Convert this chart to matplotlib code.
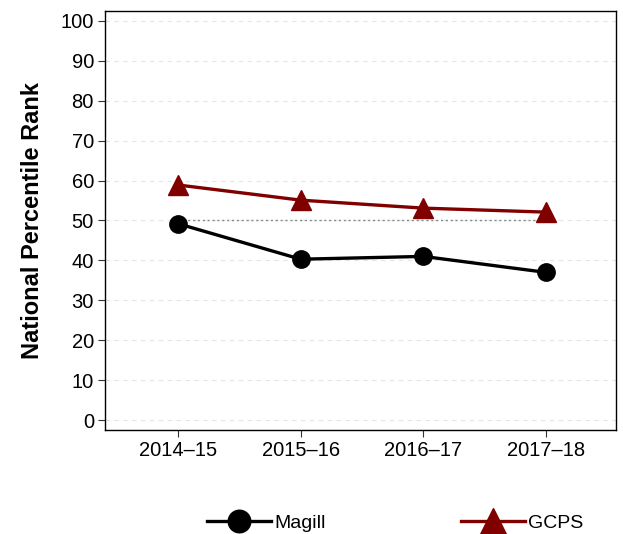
import matplotlib
matplotlib.use("Agg")
import matplotlib.pyplot as plt
from matplotlib import font_manager

years = ["2014\u201315", "2015\u201316", "2016\u201317", "2017\u201318"]
magill = [49.2, 40.3, 41.0, 37.0]
gcps = [58.9, 55.1, 53.1, 52.1]
ref_value = 50
yticks = list(range(0, 101, 10))

names = {f.name for f in font_manager.fontManager.ttflist}
narrow = "Liberation Sans Narrow" if "Liberation Sans Narrow" in names else "Liberation Sans"
plt.rcParams['font.family'] = ['Liberation Sans', 'DejaVu Sans']

fig = plt.figure(figsize=(6.23, 5.34), dpi=100)
ax = fig.add_axes([105/623, 1-430/534, (616-105)/623, (430-11)/534])

x = list(range(1, len(years)+1))
for yv in yticks:
    ax.axhline(yv, color='#dde8e8', lw=0.8, ls=(0, (4, 4)), zorder=0)
ax.plot([x[0], x[-1]], [ref_value, ref_value], color='#888888', lw=1.0, ls=(0, (1.5, 2)), zorder=1)

l1, = ax.plot(x, magill, color='black', lw=2.4, marker='o', ms=12.5, label='Magill', zorder=3)
l2, = ax.plot(x, gcps, color='#800000', lw=2.4, marker='^', ms=14, label='GCPS', zorder=3)

ax.set_xlim(0.405, 4.57)
ax.set_ylim(-2.5, 102.5)
ax.set_xticks(x)
ax.set_xticklabels(years, fontsize=14.5)
ax.set_yticks(yticks)
ax.set_yticklabels([str(v) for v in yticks], fontsize=14.5)
ax.tick_params(direction='out', length=5, width=0.8, color='#333333', pad=3)
for s in ax.spines.values():
    s.set_linewidth(1.0)
    s.set_color('black')
ax.set_ylabel('National Percentile Rank', fontsize=17, fontweight='bold', labelpad=12)

legprops = dict(frameon=False, handlelength=3.3, handletextpad=0.15, borderpad=0, borderaxespad=0,
                markerscale=1.3, prop={'family': narrow, 'size': 14})
leg1 = fig.legend(handles=[l1], loc='center left', bbox_to_anchor=(207/623, 1-523/534), **legprops)
leg2 = fig.legend(handles=[l2], loc='center left', bbox_to_anchor=(461/623, 1-523/534), **legprops)

fig.savefig('out.png', dpi=100)
